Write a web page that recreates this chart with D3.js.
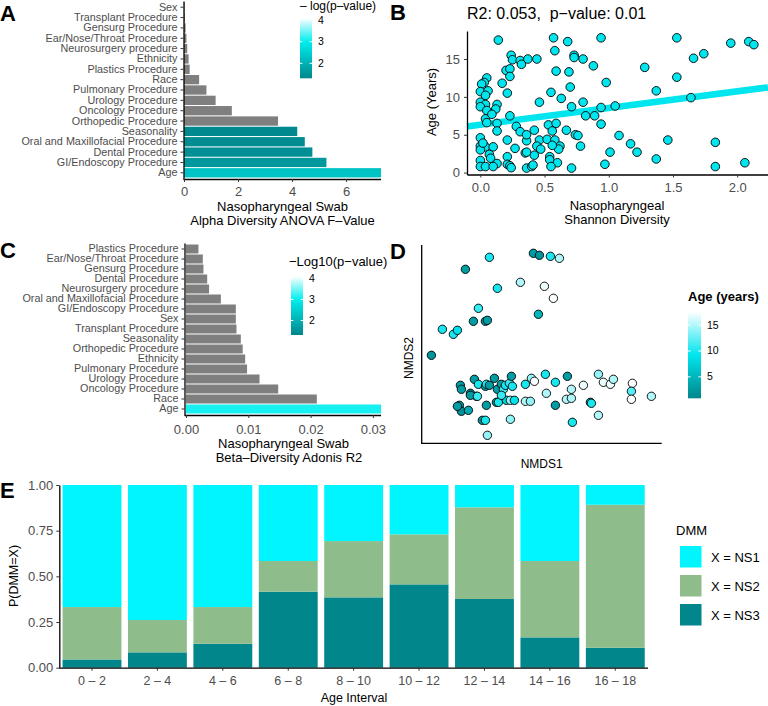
<!DOCTYPE html>
<html><head><meta charset="utf-8">
<script src="https://cdn.jsdelivr.net/npm/d3@7"></script>
<style>body{margin:0;background:#fff} text{font-family:"Liberation Sans",Arial,Helvetica,sans-serif}</style>
</head><body>
<svg id="c" width="768" height="706"></svg>
<script>
// ---------- DATA ----------
// Panel A: alpha diversity ANOVA F-values (top to bottom)
const alphaCats = ["Sex","Transplant Procedure","Gensurg Procedure","Ear/Nose/Throat Procedure","Neurosurgery procedure","Ethnicity","Plastics Procedure","Race","Pulmonary Procedure","Urology Procedure","Oncology Procedure","Orthopedic Procedure","Seasonality","Oral and Maxillofacial Procedure","Dental Procedure","GI/Endoscopy Procedure","Age"];
const alphaF = [0.02,0.03,0.06,0.09,0.12,0.17,0.21,0.56,0.83,1.17,1.77,3.48,4.19,4.47,4.75,5.27,7.29];
const alphaLogP = [null,null,null,null,null,null,null,null,null,null,null,null,1.35,1.4,1.45,1.6,2.3];
const alphaTicks = [0,2,4,6];

// Panel B: Shannon diversity vs age
const shannon = [0.14,0.57,0.94,1.53,0.68,1.95,2.09,2.13,0.58,1.74,1.66,0.24,0.25,0.31,0.32,0.37,0.44,0.73,0.73,0.80,0.88,1.28,0.59,0.69,0.20,0.23,0.23,0.05,0.03,0.17,0.01,0.98,1.53,0.70,1.37,0.55,0.21,0.00,0.06,0.04,1.64,0.63,0.46,0.80,0.00,0.04,0.13,0.12,0.00,0.71,0.94,1.05,0.05,0.82,0.89,0.23,0.04,0.05,0.13,0.53,0.59,0.94,0.28,0.13,0.31,0.42,0.56,0.67,0.74,0.76,1.08,0.00,0.21,0.46,0.52,0.58,1.46,1.83,1.17,0.78,0.44,0.00,0.04,0.10,0.00,0.27,0.47,0.62,0.61,0.42,0.35,0.07,1.01,1.22,1.37,0.21,0.54,0.00,0.08,0.13,0.21,0.23,0.54,0.60,0.97,2.06,1.83,0.00,0.04,0.10,0.24,0.36,0.40,0.41,0.55,0.71,0.36,0.36,0.56,0.36,0.09,0.02];
const ageYears = [17.5,17.8,17.8,17.8,17.3,17.1,17.3,16.9,16.1,15.7,15.1,15.5,14.9,14.8,14.3,15.0,15.0,15.5,15.2,15.0,14.1,13.9,13.4,13.3,13.5,13.7,12.7,12.5,11.9,11.8,11.7,11.9,12.6,11.3,10.8,10.6,10.5,10.7,10.8,10.2,9.9,9.8,9.3,9.3,9.3,9.0,9.0,8.4,8.7,8.7,8.6,8.8,8.2,7.5,7.5,7.5,7.1,6.6,6.5,6.3,6.5,6.4,6.1,5.5,5.4,5.6,5.5,5.6,5.0,4.9,4.9,4.6,4.3,4.3,4.4,4.3,4.3,4.0,3.8,3.5,3.5,3.5,3.4,3.4,3.0,3.2,3.1,3.5,3.1,2.3,2.6,2.4,2.7,2.7,1.8,2.1,2.1,1.6,1.9,1.2,1.1,0.9,1.7,1.3,1.1,1.3,0.8,0.8,0.8,0.8,0.65,0.6,0.8,1.0,0.8,0.6,4.2,5.0,3.6,2.7,7.7,3.9];
const fitIntercept = 6.33, fitSlope = 2.2;
const shannonTicks = [0,0.5,1,1.5,2];
const ageTicks = [0,5,10,15];

// Panel C: beta diversity Adonis R2 (top to bottom)
const betaCats = ["Plastics Procedure","Ear/Nose/Throat Procedure","Gensurg Procedure","Dental Procedure","Neurosurgery procedure","Oral and Maxillofacial Procedure","GI/Endoscopy Procedure","Sex","Transplant Procedure","Seasonality","Orthopedic Procedure","Ethnicity","Pulmonary Procedure","Urology Procedure","Oncology Procedure","Race","Age"];
const betaR2 = [0.0020,0.0027,0.0028,0.0034,0.0037,0.0056,0.0080,0.0080,0.0081,0.0088,0.0091,0.0095,0.0098,0.0118,0.0148,0.0210,0.0313];
const betaLogP = [null,null,null,null,null,null,null,null,null,null,null,null,null,null,null,null,3.1];
const betaTicks = [0,0.01,0.02,0.03];

// Panel D: NMDS ordination
const nmds1 = [-1.12,-1.01,-0.90,-0.86,-0.78,-0.70,-0.65,-0.58,-0.56,-0.54,-0.46,-0.23,-0.10,-0.04,-0.05,0.01,0.07,0.16,0.10,
 -0.83,-0.82,-0.73,-0.69,-0.67,-0.65,-0.58,-0.57,-0.54,-0.49,-0.46,-0.42,-0.40,-0.38,-0.34,-0.32,-0.31,-0.84,-0.82,-0.86,-0.75,-0.73,-0.66,-0.57,-0.47,-0.45,-0.37,-0.33,-0.29,-0.42,-0.61,-0.58,-0.56,-0.33,-0.18,-0.12,-0.09,-0.18,-0.13,0.02,0.03,0.12,0.12,0.24,0.28,0.23,0.28,0.40,0.47,0.48,0.29,0.55,0.60,0.67,0.70,0.55,0.89,0.88,0.88,1.08];
const nmds2 = [0.08,0.34,0.29,0.33,0.94,0.42,0.55,0.42,0.43,1.06,0.75,0.81,1.10,1.08,0.49,0.77,1.07,1.05,0.65,
 -0.22,-0.26,-0.30,-0.16,-0.33,-0.21,-0.23,-0.21,-0.22,-0.15,-0.26,-0.21,-0.26,-0.22,-0.20,-0.13,-0.23,-0.42,-0.48,-0.43,-0.47,-0.32,-0.33,-0.42,-0.39,-0.39,-0.37,-0.37,-0.37,-0.32,-0.57,-0.57,-0.72,-0.56,-0.21,-0.15,-0.18,-0.38,-0.38,-0.11,-0.30,-0.19,-0.42,-0.13,-0.26,-0.36,-0.35,-0.22,-0.39,-0.40,-0.59,-0.11,-0.19,-0.21,-0.16,-0.52,-0.20,-0.28,-0.36,-0.33];
const nmdsAge = [2,10,10,9,3,3,11,3,3,10,10,15,3,2,5,17,10,15,17.5,
 3,3,2,3,4,10,3,10,3,3,3,3,11,10,11,3,10,3,2,3,4,3,11,3,3,10,8,14,9,11,2,10,14,14,10,14,17.5,15,14,10,15,10,3,3,15,15,15,17,3,10,10,14,17,17,15,15,17.5,12,17.5,15];
const ageLegendTicks = [5,10,15];

// Panel E: DMM probabilities by age interval
const intervals = ["0 – 2","2 – 4","4 – 6","6 – 8","8 – 10","10 – 12","12 – 14","14 – 16","16 – 18"];
const pNS3 = [0.045,0.084,0.131,0.416,0.385,0.456,0.376,0.166,0.109];
const pNS2 = [0.287,0.177,0.201,0.168,0.308,0.274,0.502,0.418,0.783];
const pNS1 = [0.668,0.739,0.668,0.416,0.307,0.270,0.122,0.416,0.108];
const dmmLabels = ["X = NS1","X = NS2","X = NS3"];
const eTicks = [0,0.25,0.5,0.75,1];
const legendTicks = [2,3,4];

// ---------- DRAW ----------
const svg = d3.select("#c");
const FONT = '"Liberation Sans",Arial,Helvetica,sans-serif';
const GRAY = "#7F7F7F";
const pColor = d3.scaleLinear().domain([1.3,3,4.1]).range(["#00868B","#00EEEE","#FFFFFF"]);
const ageColor = d3.scaleLinear().domain([0.85,9.2,17.6]).range(["#00868B","#00E5EE","#FFFFFF"]);
const dmmColors = {NS1:"#00F5FF", NS2:"#8FBC8B", NS3:"#00868B"};

function styleAxis(g, fs){
  g.select(".domain").attr("stroke","#000").attr("stroke-width",1.3);
  g.selectAll(".tick line").attr("stroke","#333").attr("stroke-width",1);
  g.selectAll(".tick text").attr("fill","#4D4D4D").attr("font-size",fs||13).attr("font-family",FONT);
}
function panelLetter(t,x,y){
  svg.append("text").attr("x",x).attr("y",y).attr("font-size",22).attr("font-weight","bold").attr("fill","#000").text(t);
}
function txt(x,y,s,opt){
  opt=opt||{};
  return svg.append("text").attr("x",x).attr("y",y).attr("font-size",opt.fs||13)
    .attr("text-anchor",opt.anchor||"middle").attr("fill",opt.fill||"#000")
    .attr("font-weight",opt.bold?"bold":"normal").text(s);
}
let gradId=0;
function colorbar(x,y,w,h,scale,dom,ticks,title,tx,ty,tfs,bold){
  const id="g"+(gradId++);
  const grad=svg.append("defs").append("linearGradient").attr("id",id).attr("x1",0).attr("y1",1).attr("x2",0).attr("y2",0);
  d3.range(0,1.0001,0.05).forEach(t=>grad.append("stop").attr("offset",t).attr("stop-color",scale(dom[0]+t*(dom[1]-dom[0]))));
  svg.append("rect").attr("x",x).attr("y",y).attr("width",w).attr("height",h).attr("fill","url(#"+id+")");
  const ly=d3.scaleLinear().domain(dom).range([y+h,y]);
  ticks.forEach(v=>{
    svg.append("line").attr("x1",x).attr("x2",x+w/5).attr("y1",ly(v)).attr("y2",ly(v)).attr("stroke","#fff");
    svg.append("line").attr("x1",x+w-w/5).attr("x2",x+w).attr("y1",ly(v)).attr("y2",ly(v)).attr("stroke","#fff");
    txt(x+w+6,ly(v)+3.5,v,{fs:10.5,anchor:"start"});
  });
  txt(tx,ty,title,{fs:tfs,anchor:"start",bold:bold});
}

// ===== Panel A =====
{
  const x=d3.scaleLinear().domain([0,7.29]).range([184,381]);
  const y=d3.scaleBand().domain(alphaCats).range([1,179]).paddingInner(0.1).paddingOuter(0.15);
  svg.append("g").selectAll("rect").data(alphaCats).join("rect")
    .attr("x",x(0)).attr("y",d=>y(d)).attr("height",y.bandwidth())
    .attr("width",(d,i)=>x(alphaF[i])-x(0))
    .attr("fill",(d,i)=>alphaLogP[i]==null?GRAY:pColor(alphaLogP[i]));
  const gy=svg.append("g").attr("transform","translate(183.5,0)").call(d3.axisLeft(y).tickSize(3).tickSizeOuter(0).tickPadding(3));
  styleAxis(gy,10.8);
  const gx=svg.append("g").attr("transform","translate(0,179)").call(d3.axisBottom(x).tickValues(alphaTicks).tickSize(3).tickSizeOuter(0).tickPadding(5).tickFormat(d3.format("d")));
  gx.select(".domain").attr("d","M183.5,0.5H381");
  styleAxis(gx);
  txt(282.5,211,"Nasopharyngeal Swab");
  txt(282.5,225,"Alpha Diversity ANOVA F–Value");
  colorbar(300,18.3,12,60,pColor,[1.31,4.08],legendTicks,"– log(p–value)",300,10,12);
  panelLetter("A",0,21);
}

// ===== Panel B =====
{
  const x=d3.scaleLinear().domain([-0.104,2.24]).range([467,768]);
  const y=d3.scaleLinear().domain([-0.25,18.7]).range([174.5,31]);
  const xd=x.domain();
  svg.append("line").attr("x1",x(xd[0])).attr("x2",x(xd[1]))
    .attr("y1",y(fitIntercept+fitSlope*xd[0])).attr("y2",y(fitIntercept+fitSlope*xd[1]))
    .attr("stroke","#00E5EE").attr("stroke-width",6.5);
  svg.append("g").selectAll("circle").data(shannon).join("circle")
    .attr("cx",d=>x(d)).attr("cy",(d,i)=>y(ageYears[i])).attr("r",4.3)
    .attr("fill","#00E5EE").attr("stroke","#000").attr("stroke-width",0.9);
  const gy=svg.append("g").attr("transform","translate(467,0)").call(d3.axisLeft(y).tickValues(ageTicks).tickSize(3).tickSizeOuter(0).tickPadding(4));
  styleAxis(gy);
  const gx=svg.append("g").attr("transform","translate(0,174.5)").call(d3.axisBottom(x).tickValues(shannonTicks).tickSize(3).tickSizeOuter(0).tickPadding(5).tickFormat(d3.format(".1f")));
  styleAxis(gx);
  txt(617,209.5,"Nasopharyngeal");
  txt(617,223.5,"Shannon Diversity");
  svg.append("text").attr("transform","translate(436,102) rotate(-90)").attr("text-anchor","middle").attr("font-size",13).text("Age (Years)");
  txt(467,19,"R2: 0.053,\u00a0 p−value: 0.01",{fs:16,anchor:"start"});
  panelLetter("B",390,20);
}

// ===== Panel C =====
{
  const x=d3.scaleLinear().domain([0,0.0313]).range([186,381]);
  const y=d3.scaleBand().domain(betaCats).range([243,415]).paddingInner(0.1).paddingOuter(0.15);
  svg.append("g").selectAll("rect").data(betaCats).join("rect")
    .attr("x",x(0)).attr("y",d=>y(d)).attr("height",y.bandwidth())
    .attr("width",(d,i)=>x(betaR2[i])-x(0))
    .attr("fill",(d,i)=>betaLogP[i]==null?GRAY:pColor(betaLogP[i]));
  const gy=svg.append("g").attr("transform","translate(184.5,0)").call(d3.axisLeft(y).tickSize(3).tickSizeOuter(0).tickPadding(3));
  styleAxis(gy,10.8);
  const gx=svg.append("g").attr("transform","translate(0,415)").call(d3.axisBottom(x).tickValues(betaTicks).tickSize(3).tickSizeOuter(0).tickPadding(7).tickFormat(d3.format(".2f")));
  gx.select(".domain").attr("d","M184.5,0.5H381");
  styleAxis(gx);
  txt(283.5,448,"Nasopharyngeal Swab");
  txt(289,461.5,"Beta–Diversity Adonis R2");
  colorbar(291,276.7,12,58.3,pColor,[1.31,4.08],legendTicks,"−Log10(p−value)",289,266,13);
  panelLetter("C",0,258);
}

// ===== Panel D =====
{
  const x=d3.scaleLinear().domain([-1.217,1.183]).range([421.7,661.7]);
  const y=d3.scaleLinear().domain([-0.8,1.183]).range([443.3,245]);
  svg.append("g").selectAll("circle").data(nmds1).join("circle")
    .attr("cx",d=>x(d)).attr("cy",(d,i)=>y(nmds2[i])).attr("r",4.2)
    .attr("fill",(d,i)=>ageColor(nmdsAge[i])).attr("stroke","#000").attr("stroke-width",0.9);
  svg.append("path").attr("d",`M${x(-1.217)},${y(1.183)}V${y(-0.8)}H${x(1.183)}`).attr("fill","none").attr("stroke","#000").attr("stroke-width",1.3);
  txt(541.7,467.5,"NMDS1",{fs:12});
  svg.append("text").attr("transform","translate(413,358) rotate(-90)").attr("text-anchor","middle").attr("font-size",12).text("NMDS2");
  colorbar(688,311.7,13,86.6,ageColor,[0.85,17.6],ageLegendTicks,"Age (years)",688,301,13,true);
  panelLetter("D",390,259);
}

// ===== Panel E =====
{
  const x=d3.scaleBand().domain(intervals).range([59.3,648]).paddingInner(0.1).paddingOuter(0.05);
  const y=d3.scaleLinear().domain([0,1]).range([667.7,485]);
  const rows=intervals.map((k,i)=>({k,NS3:pNS3[i],NS2:pNS2[i],NS1:pNS1[i]}));
  const stack=d3.stack().keys(["NS3","NS2","NS1"])(rows);
  svg.append("g").selectAll("g").data(stack).join("g").attr("fill",d=>dmmColors[d.key])
    .selectAll("rect").data(d=>d).join("rect")
    .attr("x",d=>x(d.data.k)).attr("width",x.bandwidth())
    .attr("y",d=>y(d[1])).attr("height",d=>y(d[0])-y(d[1]));
  const gy=svg.append("g").attr("transform","translate(59.3,0)").call(d3.axisLeft(y).tickValues(eTicks).tickSize(3).tickSizeOuter(0).tickPadding(3).tickFormat(d3.format(".2f")));
  styleAxis(gy);
  const gx=svg.append("g").attr("transform","translate(0,667.7)").call(d3.axisBottom(x).tickSize(3).tickSizeOuter(0).tickPadding(5));
  gx.select(".domain").attr("d","M59.3,0.5H648");
  styleAxis(gx,12.5);
  txt(354,702,"Age Interval",{fs:12.5});
  svg.append("text").attr("transform","translate(18,576) rotate(-90)").attr("text-anchor","middle").attr("font-size",12.5).text("P(DMM=X)");
  txt(676,534.5,"DMM",{fs:13,anchor:"start"});
  const keys=["NS1","NS2","NS3"];
  keys.forEach((k,i)=>{
    svg.append("rect").attr("x",680).attr("y",546+i*29).attr("width",21.5).attr("height",21.5).attr("fill",dmmColors[k]);
    txt(711,546+i*29+15.5,dmmLabels[i],{fs:13,anchor:"start"});
  });
  panelLetter("E",0,498);
}
</script>
</body></html>
